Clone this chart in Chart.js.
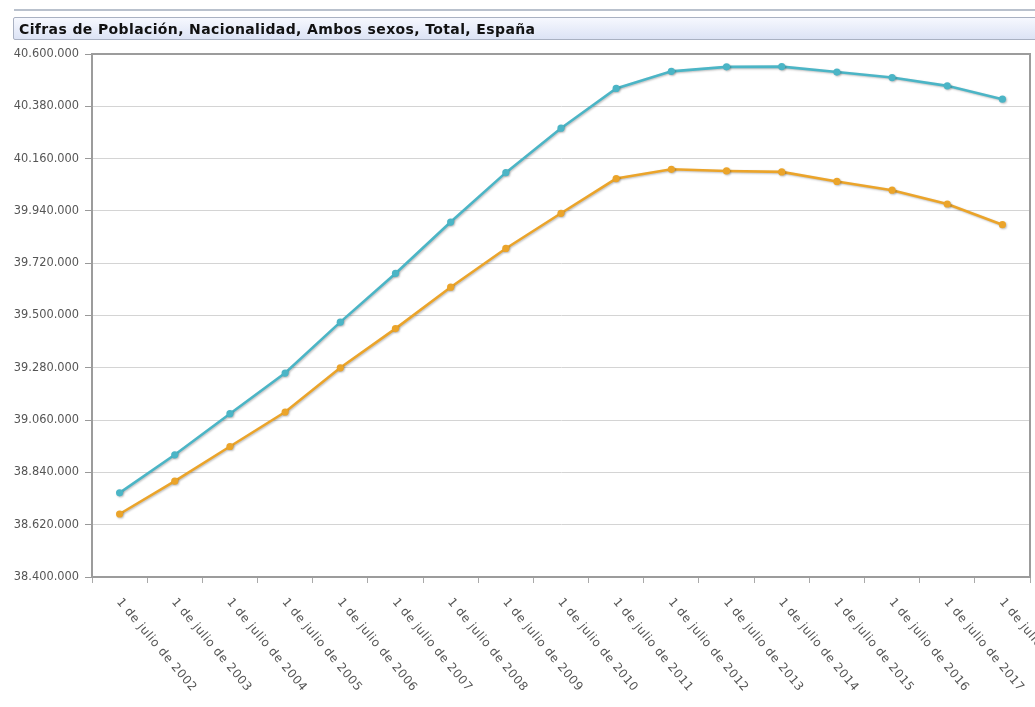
<!DOCTYPE html>
<html lang="es">
<head>
<meta charset="utf-8">
<title>Cifras de Población</title>
<script src="https://cdn.jsdelivr.net/npm/chart.js@4"></script>
<style>
  html, body { margin: 0; padding: 0; background: #fff; }
  #wrap { position: relative; width: 1035px; height: 707px; overflow: hidden; }
  #topline { position: absolute; left: 14px; top: 9px; width: 1030px; height: 2px; background: #b9c1cd; }
  #titulo {
    position: absolute; left: 13px; top: 17px; width: 1030px; height: 23px;
    border: 1px solid #a9b1c2; border-radius: 2px;
    background: linear-gradient(#f6f8fe, #dce3f5);
    font: bold 14px "DejaVu Sans", sans-serif; color: #111; letter-spacing: 0.38px;
    line-height: 22px; padding-left: 5px; box-sizing: border-box; white-space: nowrap;
  }
  canvas { position: absolute; left: 0; top: 0; }
</style>
</head>
<body>
<div id="wrap">
  <div id="topline"></div>
  <canvas id="grafico" width="1035" height="707"></canvas>
  <div id="titulo">Cifras de Población, Nacionalidad, Ambos sexos, Total, España</div>
</div>
<script>
// Datos (población a 1 de julio)
const years = [2002, 2003, 2004, 2005, 2006, 2007, 2008, 2009, 2010, 2011, 2012, 2013, 2014, 2015, 2016, 2017, 2018];
const labels = years.map(y => '1 de julio de ' + y);

const serieAzul = [38754000, 38914000, 39087000, 39258000, 39472000, 39677000, 39893000, 40101000, 40288000,
                   40455000, 40527000, 40546000, 40547000, 40524000, 40501000, 40466000, 40410000];
const serieNaranja = [38665000, 38803000, 38949000, 39094000, 39280000, 39445000, 39619000, 39782000, 39930000,
                      40076000, 40115000, 40108000, 40104000, 40064000, 40027000, 39969000, 39882000];

const yMin = 38400000;
const yMax = 40600000;
const yStep = 220000;

// Formato con punto como separador de miles
const formatNum = (v) => String(Math.round(v)).replace(/\B(?=(\d{3})+(?!\d))/g, '.');

// --- PLUGINS ---

// Sombra suave para líneas y puntos
const sombra = {
    id: 'sombra',
    beforeDatasetsDraw(chart) {
        const ctx = chart.ctx;
        ctx.save();
        ctx.shadowColor = 'rgba(0,0,0,0.25)';
        ctx.shadowBlur = 2;
        ctx.shadowOffsetX = 1;
        ctx.shadowOffsetY = 1;
    },
    afterDatasetsDraw(chart) {
        chart.ctx.restore();
    }
};

// Marco gris del área del gráfico y etiquetas del eje X giradas
const marco = {
    id: 'marco',
    afterDraw(chart) {
        const { ctx, chartArea: a } = chart;
        ctx.save();
        ctx.strokeStyle = '#9c9c9c';
        ctx.lineWidth = 2;
        ctx.strokeRect(a.left, a.top, a.right - a.left, a.bottom - a.top);
        ctx.restore();

        const xs = chart.scales.x;
        ctx.save();
        ctx.fillStyle = '#555';
        ctx.font = '12px "DejaVu Sans", sans-serif';
        ctx.letterSpacing = '0.5px';
        ctx.textAlign = 'left';
        ctx.textBaseline = 'middle';
        labels.forEach((lab, i) => {
            const x = xs.getPixelForTick(i);
            ctx.save();
            ctx.translate(x - 1, a.bottom + 23);
            ctx.rotate(50 * Math.PI / 180);
            ctx.fillText(lab, 0, 0);
            ctx.restore();
        });
        ctx.restore();
    }
};

const ctx = document.getElementById('grafico').getContext('2d');
new Chart(ctx, {
    type: 'line',
    data: {
        labels: labels,
        datasets: [
            {
                label: 'Total',
                data: serieAzul,
                borderColor: '#4bb5c6',
                backgroundColor: '#4bb5c6',
                borderWidth: 2.6,
                pointRadius: 3.6,
                pointBorderWidth: 0,
                tension: 0
            },
            {
                label: 'Españoles',
                data: serieNaranja,
                borderColor: '#eba42a',
                backgroundColor: '#eba42a',
                borderWidth: 2.6,
                pointRadius: 3.6,
                pointBorderWidth: 0,
                tension: 0
            }
        ]
    },
    options: {
        responsive: false,
        animation: false,
        layout: { padding: { top: 54, right: 5, left: 0, bottom: 0 } },
        plugins: {
            legend: { display: false },
            tooltip: { enabled: false }
        },
        scales: {
            x: {
                offset: true,
                grid: {
                    offset: true,
                    drawOnChartArea: false,
                    drawTicks: true,
                    tickLength: 6,
                    tickColor: '#aaa'
                },
                border: { display: true, color: '#9c9c9c', width: 2 },
                ticks: { display: false },
                afterFit(scale) { scale.height = 130; }
            },
            y: {
                min: yMin,
                max: yMax,
                grid: {
                    color: '#d4d4d4',
                    lineWidth: 1,
                    drawTicks: true,
                    tickLength: 7,
                    tickColor: '#999'
                },
                border: { display: true, color: '#9c9c9c', width: 2 },
                ticks: {
                    stepSize: yStep,
                    color: '#555',
                    padding: 6,
                    font: { family: '"DejaVu Sans", sans-serif', size: 11.4 },
                    callback: (v) => formatNum(v)
                },
                afterFit(scale) { scale.width = 92; }
            }
        }
    },
    plugins: [sombra, marco]
});
</script>
</body>
</html>
